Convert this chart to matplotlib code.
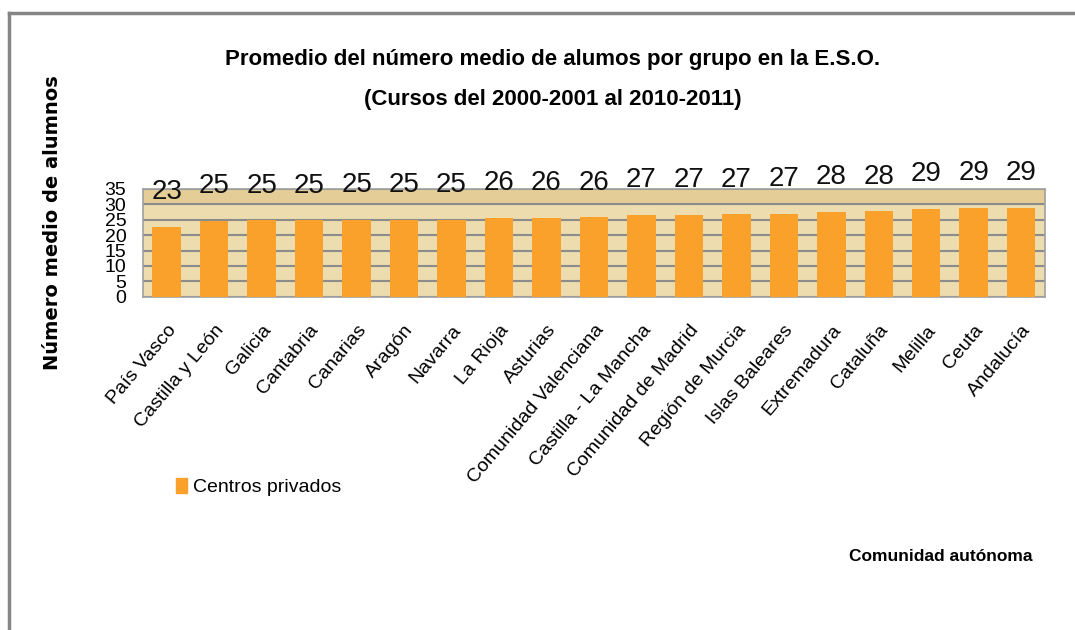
import matplotlib
matplotlib.use('Agg')
import matplotlib.pyplot as plt
from matplotlib.lines import Line2D
from matplotlib.patches import Patch

regions = ['País Vasco', 'Castilla y León', 'Galicia', 'Cantabria', 'Canarias', 'Aragón',
           'Navarra', 'La Rioja', 'Asturias', 'Comunidad Valenciana', 'Castilla - La Mancha',
           'Comunidad de Madrid', 'Región de Murcia', 'Islas Baleares', 'Extremadura',
           'Cataluña', 'Melilla', 'Ceuta', 'Andalucía']
privados = [22.6, 24.6, 24.8, 24.8, 24.9, 24.9, 25.0, 25.6, 25.7, 25.8,
            26.6, 26.7, 26.8, 26.9, 27.6, 27.7, 28.6, 28.8, 28.9]
y_ticks = [0, 5, 10, 15, 20, 25, 30, 35]

narrow = ['Liberation Sans Narrow', 'Liberation Sans', 'DejaVu Sans']
bar_color = '#f9a12a'

fig = plt.figure(figsize=(10.75, 6.3), dpi=100)
ax = fig.add_axes([0.133, 0.529, 0.839, 0.171])

ax.set_facecolor('#ecdcae')
ax.axhspan(30, 35, color='#e4cd96', zorder=0)
x = range(len(regions))
ax.bar(x, privados, width=0.6, color=bar_color, zorder=3)

for xi, v in zip(x, privados):
    ax.annotate('%.0f' % v, (xi, v), xytext=(0, 25), textcoords='offset points',
                ha='center', va='center', fontsize=20, family=narrow, color='#111111',
                zorder=5, annotation_clip=False)

ax.set_ylim(0, 35)
ax.set_xlim(-0.5, len(regions) - 0.5)
ax.set_yticks(y_ticks)
ax.set_yticklabels([str(t) for t in y_ticks], family=narrow, fontsize=14)
ax.yaxis.grid(True, color='#8c8c8c', linewidth=1.5, zorder=1)
ax.set_axisbelow(True)
ax.tick_params(axis='both', length=0)
ax.tick_params(axis='y', pad=12)
ax.set_xticks(list(x))
ax.set_xticklabels(regions, rotation=50, ha='right', va='top', rotation_mode='anchor',
                   family=narrow, fontsize=14)
ax.tick_params(axis='x', pad=18)
for s in ax.spines.values():
    s.set_color('#a0a0a0')
    s.set_linewidth(1.2)

fig.text(0.514, 0.905, 'Promedio del número medio de alumos por grupo en la E.S.O.',
         ha='center', va='center', fontsize=16, fontweight='bold', family=narrow)
fig.text(0.514, 0.842, '(Cursos del 2000-2001 al 2010-2011)',
         ha='center', va='center', fontsize=16, fontweight='bold', family=narrow)
fig.text(0.049, 0.647, 'Número medio de alumnos', rotation=90, ha='center', va='center',
         fontsize=14, fontweight='bold', family='DejaVu Sans')
fig.text(0.79, 0.116, 'Comunidad autónoma', ha='left', va='center',
         fontsize=12.5, fontweight='bold', family=narrow)

fig.legend(handles=[Patch(color=bar_color, label='Centros privados')],
           loc='center left', bbox_to_anchor=(0.147, 1 - 487 / 630), frameon=False,
           handlelength=0.6, handleheight=0.8, handletextpad=0.3,
           prop={'family': narrow, 'size': 14})

# outer chart frame (left and top edges only)
fig.add_artist(Line2D([0.0085, 0.0085], [0, 0.98], transform=fig.transFigure,
                      color='#858585', linewidth=2.5))
fig.add_artist(Line2D([0.0085, 1.0], [0.98, 0.98], transform=fig.transFigure,
                      color='#858585', linewidth=2.5))

fig.savefig('out.png', dpi=100)
